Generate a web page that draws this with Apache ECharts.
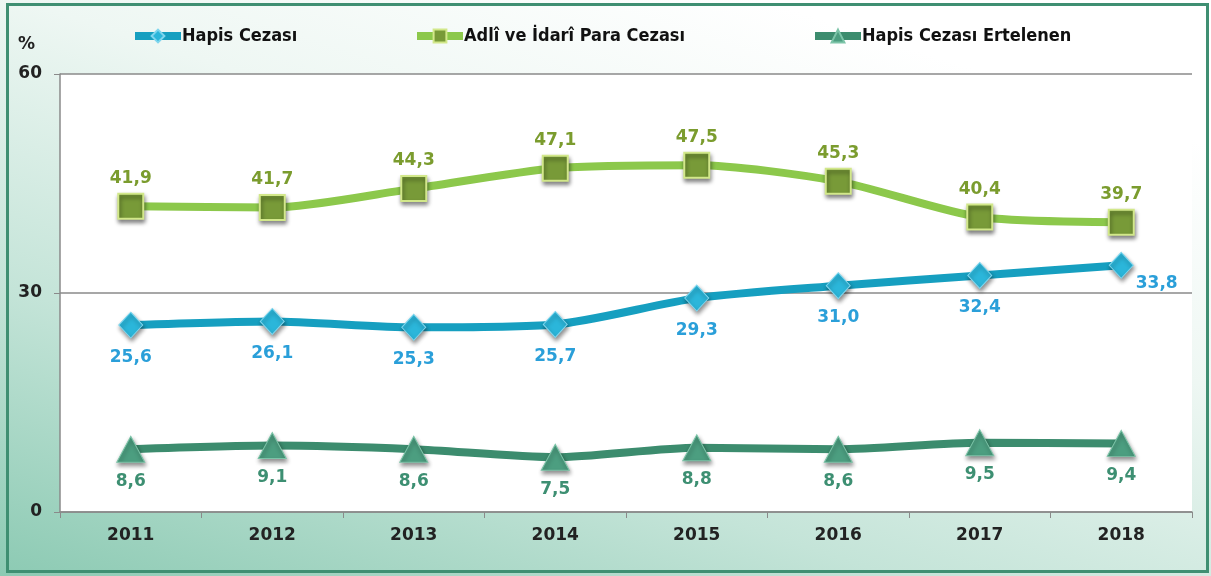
<!DOCTYPE html>
<html>
<head>
<meta charset="utf-8">
<script src="https://cdn.jsdelivr.net/npm/echarts@6/dist/echarts.min.js"></script>
<style>
  html, body { margin: 0; padding: 0; }
  .box {
    position: relative;
    width: 1211px;
    height: 576px;
    background: linear-gradient(18deg, #8ccab3 0%, #c4e4d8 30%, #eef7f3 60%, #ffffff 85%);
  }
  .frame {
    position: absolute;
    left: 6px; top: 3px;
    width: 1197px; height: 564px;
    border: 3px solid #3f8f72;
  }
  #chart { position: absolute; left: 0; top: 0; width: 1211px; height: 576px; }
</style>
</head>
<body>
<div class="box">
  <div class="frame"></div>
  <div id="chart"></div>
</div>
<script>
// veriler
var years = ["2011", "2012", "2013", "2014", "2015", "2016", "2017", "2018"];
var hapis = [25.6, 26.1, 25.3, 25.7, 29.3, 31.0, 32.4, 33.8];
var adli = [41.9, 41.7, 44.3, 47.1, 47.5, 45.3, 40.4, 39.7];
var ertelenen = [8.6, 9.1, 8.6, 7.5, 8.8, 8.6, 9.5, 9.4];
var yTicks = [0, 30, 60];

var labelFont = "'DejaVu Sans', Verdana, sans-serif";
var legendFont = "'DejaVu Sans Condensed', 'Liberation Sans Narrow', sans-serif";

function fmt(p) {
  return p.value.toFixed(1).replace(".", ",");
}

var shadow = {
  shadowBlur: 4,
  shadowColor: "rgba(0,0,0,0.45)",
  shadowOffsetX: 1,
  shadowOffsetY: 3,
};

function legendItem(name, left) {
  return {
    data: [name],
    left: left,
    top: 22,
    itemWidth: 46,
    itemHeight: 16,
    itemGap: 0,
    lineStyle: { width: 8 },
    textStyle: { color: "#111", fontSize: 18, fontWeight: "bold", fontFamily: legendFont, padding: [0, 0, 0, -4] },
  };
}

// son nokta etiketi sağ altta
var hapisData = hapis.map(function (v, i) {
  if (i === hapis.length - 1) {
    return { value: v, label: { position: "right", offset: [-8, 18] } };
  }
  return v;
});

var myChart = echarts.init(document.getElementById("chart"));
myChart.setOption({
  animation: false,
  grid: {
    left: 60,
    right: 19,
    top: 74,
    bottom: 64,
    show: true,
    backgroundColor: "#fff",
    borderWidth: 0,
  },
  graphic: [
    {
      type: "text",
      left: 18,
      top: 36,
      style: { text: "%", fill: "#222", font: "bold 17px " + labelFont },
    },
  ],
  legend: [
    legendItem("Hapis Cezası", 126),
    legendItem("Adlî ve İdarî Para Cezası", 408),
    legendItem("Hapis Cezası Ertelenen", 806),
  ],
  xAxis: {
    type: "category",
    data: years,
    boundaryGap: true,
    axisLine: { lineStyle: { color: "#8a8a8a", width: 1.5 } },
    axisTick: { show: true, length: 6, lineStyle: { color: "#8a8a8a" } },
    axisLabel: {
      color: "#222",
      fontSize: 17,
      fontWeight: "bold",
      fontFamily: labelFont,
      margin: 15,
    },
  },
  yAxis: {
    type: "value",
    min: 0,
    max: 60,
    interval: 30,
    axisLine: { show: true, lineStyle: { color: "#8a8a8a", width: 1.5 } },
    axisTick: { show: true, length: 6, lineStyle: { color: "#8a8a8a" } },
    axisLabel: {
      color: "#222",
      fontSize: 17,
      fontWeight: "bold",
      fontFamily: labelFont,
      margin: 18,
      formatter: function (v) {
        return yTicks.indexOf(v) >= 0 ? String(v) : "";
      },
    },
    splitLine: { show: true, lineStyle: { color: "#8a8a8a", width: 1.5 } },
  },
  series: [
    {
      name: "Hapis Cezası",
      type: "line",
      data: hapisData,
      smooth: 0.25,
      symbol: "diamond",
      symbolSize: [24, 26],
      lineStyle: { color: "#169fc0", width: 8 },
      itemStyle: Object.assign({ color: "#2bb6da", borderColor: "#7fd6ee", borderWidth: 1 }, shadow),
      label: {
        show: true,
        position: "bottom",
        distance: 10,
        color: "#2a9fd9",
        fontSize: 17,
        fontWeight: "bold",
        fontFamily: labelFont,
        formatter: fmt,
      },
      z: 3,
    },
    {
      name: "Adlî ve İdarî Para Cezası",
      type: "line",
      data: adli,
      smooth: 0.25,
      symbol: "rect",
      symbolSize: 25,
      lineStyle: { color: "#8cc84b", width: 8 },
      itemStyle: Object.assign({ color: "#789a38", borderColor: "#d2e88a", borderWidth: 2 }, shadow),
      label: {
        show: true,
        position: "top",
        distance: 6,
        color: "#7b9c2e",
        fontSize: 17,
        fontWeight: "bold",
        fontFamily: labelFont,
        formatter: fmt,
      },
      z: 3,
    },
    {
      name: "Hapis Cezası Ertelenen",
      type: "line",
      data: ertelenen,
      smooth: 0.25,
      symbol: "triangle",
      symbolSize: [28, 26],
      lineStyle: { color: "#3c8c6e", width: 8 },
      itemStyle: Object.assign({ color: "#4c9e80", borderColor: "#7cc4a8", borderWidth: 1 }, shadow),
      label: {
        show: true,
        position: "bottom",
        distance: 10,
        color: "#3d8f72",
        fontSize: 17,
        fontWeight: "bold",
        fontFamily: labelFont,
        formatter: fmt,
      },
      z: 3,
    },
  ],
});
</script>
</body>
</html>
